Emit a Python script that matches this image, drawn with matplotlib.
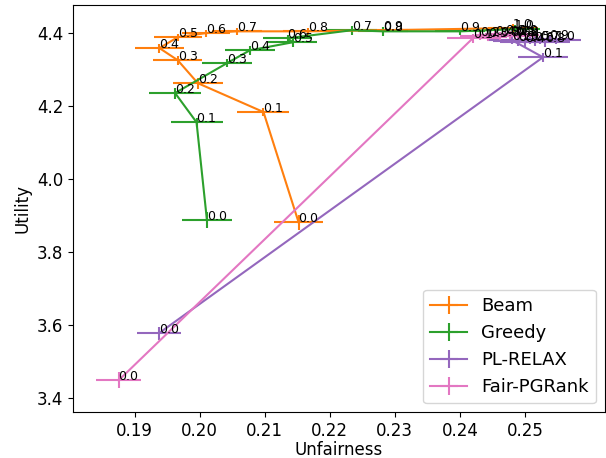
import numpy as np
import matplotlib
matplotlib.use("Agg")
import matplotlib.pyplot as plt

plt.rcParams['font.size'] = 12

lambdas = [0.0, 0.1, 0.2, 0.3, 0.4, 0.5, 0.6, 0.7, 0.8, 0.9, 1.0]

# Beam
beam_x = [0.2152, 0.2098, 0.1997, 0.1966, 0.1938, 0.1966, 0.2009, 0.2057, 0.2166, 0.2282, 0.2482]
beam_y = [3.882, 4.184, 4.263, 4.326, 4.359, 4.389, 4.400, 4.405, 4.405, 4.408, 4.414]
beam_xerr = [0.0038, 0.0040, 0.0038, 0.0038, 0.0038, 0.0037, 0.0037, 0.0038, 0.0038, 0.0038, 0.0038]
beam_yerr = [0.020, 0.012, 0.015, 0.012, 0.012, 0.010, 0.010, 0.010, 0.010, 0.010, 0.010]

# Greedy
greedy_x = [0.2011, 0.1995, 0.1962, 0.2042, 0.2077, 0.2143, 0.2135, 0.2234, 0.2282, 0.2400, 0.2485]
greedy_y = [3.888, 4.156, 4.236, 4.318, 4.353, 4.375, 4.386, 4.408, 4.405, 4.405, 4.411]
greedy_xerr = [0.0038, 0.0040, 0.0040, 0.0038, 0.0038, 0.0038, 0.0038, 0.0038, 0.0038, 0.0038, 0.0038]
greedy_yerr = [0.022, 0.012, 0.015, 0.012, 0.012, 0.012, 0.010, 0.012, 0.012, 0.010, 0.010]

# PL-RELAX
plrelax_x = [0.1937, 0.2528, 0.2480, 0.2489, 0.2500, 0.2508, 0.2515, 0.2523, 0.2531, 0.2538, 0.2548]
plrelax_y = [3.578, 4.334, 4.381, 4.378, 4.375, 4.381, 4.378, 4.381, 4.375, 4.384, 4.381]
plrelax_xerr = [0.0034, 0.0038, 0.0038, 0.0038, 0.0038, 0.0038, 0.0038, 0.0038, 0.0038, 0.0038, 0.0038]
plrelax_yerr = [0.018, 0.012, 0.012, 0.012, 0.012, 0.012, 0.012, 0.012, 0.012, 0.012, 0.012]

# Fair-PGRank
pgrank_x = [0.1875, 0.2420, 0.2431, 0.2443, 0.2454, 0.2462, 0.2469, 0.2477, 0.2485, 0.2489, 0.2492]
pgrank_y = [3.449, 4.386, 4.392, 4.389, 4.395, 4.392, 4.397, 4.395, 4.392, 4.397, 4.395]
pgrank_xerr = [0.0034, 0.0040, 0.0030, 0.0030, 0.0030, 0.0030, 0.0030, 0.0030, 0.0030, 0.0030, 0.0030]
pgrank_yerr = [0.022, 0.012, 0.010, 0.010, 0.010, 0.010, 0.010, 0.010, 0.010, 0.010, 0.010]

xticks = [0.19, 0.20, 0.21, 0.22, 0.23, 0.24, 0.25]

series = [
    ("Beam", beam_x, beam_y, beam_xerr, beam_yerr, "tab:orange"),
    ("Greedy", greedy_x, greedy_y, greedy_xerr, greedy_yerr, "tab:green"),
    ("PL-RELAX", plrelax_x, plrelax_y, plrelax_xerr, plrelax_yerr, "tab:purple"),
    ("Fair-PGRank", pgrank_x, pgrank_y, pgrank_xerr, pgrank_yerr, "tab:pink"),
]

fig, ax = plt.subplots(figsize=(6.06, 4.58), dpi=100)
fig.subplots_adjust(left=0.1205, right=0.998, top=0.989, bottom=0.1)

for name, x, y, xe, ye, c in series:
    ax.errorbar(x, y, xerr=xe, yerr=ye, color=c, label=name)
    for lam, xi, yi in zip(lambdas, x, y):
        ax.text(xi, yi, str(lam), fontsize=9)

ax.set_xlim(0.1805, 0.2623)
ax.set_ylim(3.362, 4.477)
ax.set_xticks(xticks)
ax.set_xlabel("Unfairness", labelpad=1)
ax.set_ylabel("Utility")
ax.legend(loc="lower right", fontsize=13)

fig.savefig("out.png", dpi=100)
